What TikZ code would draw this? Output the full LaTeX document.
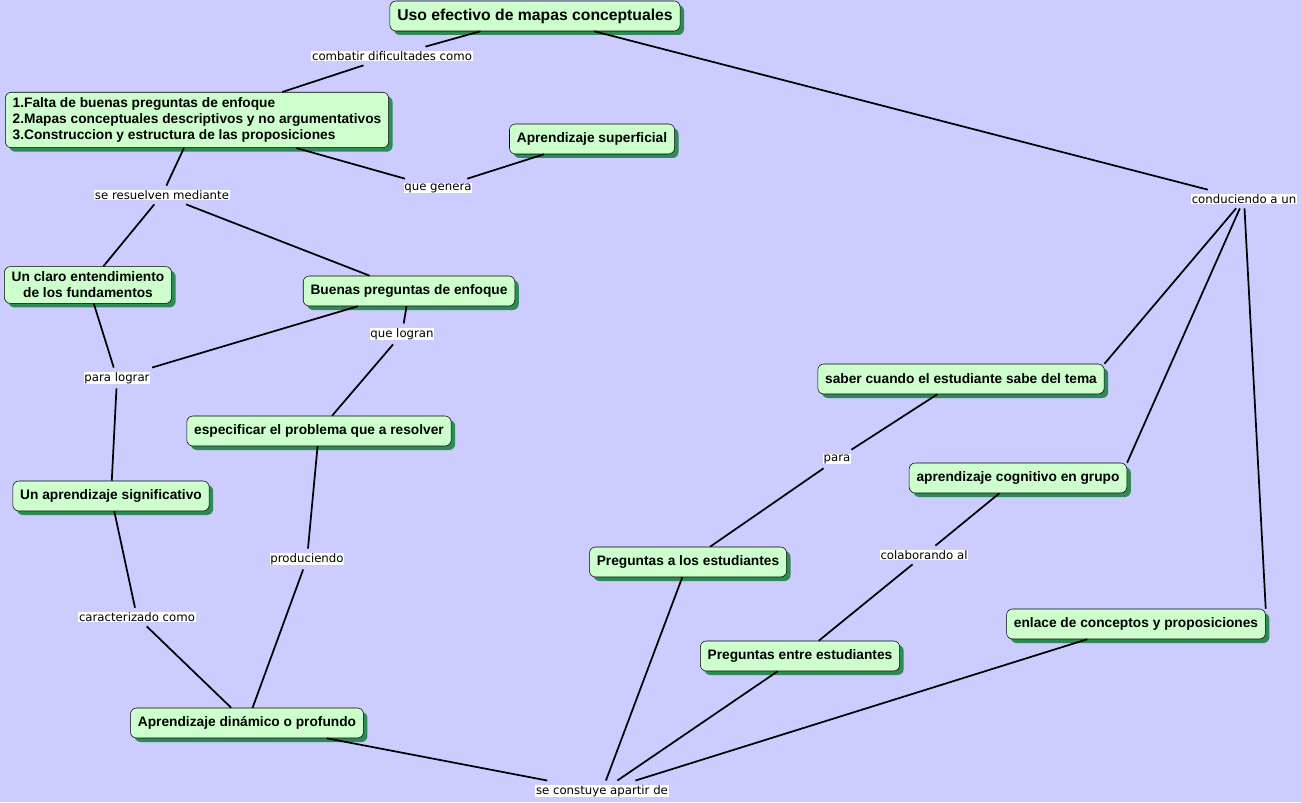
\documentclass[tikz,border=0pt]{standalone}
\usepackage{fontspec}
\setmainfont{Liberation Sans}
\newfontfamily\etiq{DejaVu Sans}
\usetikzlibrary{shadows}
\definecolor{fondo}{RGB}{204,204,255}
\definecolor{verdeclaro}{RGB}{204,255,204}
\definecolor{verdesombra}{RGB}{46,139,87}
\begin{document}
\begin{tikzpicture}[
            x=0.75pt, y=-0.75pt,
            concepto/.style={
                rectangle,
                rounded corners=4.5pt,
                draw=black,
                fill=verdeclaro,
                thin,
                minimum height=22.5pt,
                inner xsep=5.5pt,
                inner ysep=4pt,
                font=\fontsize{10.3}{12}\selectfont\bfseries,
                drop shadow={shadow xshift=3pt, shadow yshift=-3pt,
                    fill=verdesombra, opacity=1}
            },
            frase/.style={
                fill=white,
                inner sep=0.6pt,
                outer sep=3pt,
                font=\etiq\fontsize{8.8}{9}\selectfont
            },
            arista/.style={line width=1.3pt, black}
        ]

        % Fondo
        \fill[fondo] (0,0) rectangle (1301,802);
        \useasboundingbox (0,0) rectangle (1301,802);

        % Conceptos
        \node[concepto, font=\fontsize{11.8}{13}\selectfont\bfseries] (uso) at (535,16) {Uso efectivo de mapas conceptuales};
        \node[concepto, align=left] (falta) at (197,120) {1.Falta de buenas preguntas de enfoque\\2.Mapas conceptuales descriptivos y no argumentativos\\3.Construccion y estructura de las proposiciones};
        \node[concepto] (superficial) at (592,139) {Aprendizaje superficial};
        \node[concepto, align=center] (claro) at (88,285) {Un claro entendimiento\\de los fundamentos};
        \node[concepto] (buenas) at (409,291) {Buenas preguntas de enfoque};
        \node[concepto] (especificar) at (319,431) {especificar el problema que a resolver};
        \node[concepto] (significativo) at (111,496) {Un aprendizaje significativo};
        \node[concepto] (dinamico) at (247,723) {Aprendizaje dinámico o profundo};
        \node[concepto] (saber) at (961,379) {saber cuando el estudiante sabe del tema};
        \node[concepto] (cognitivo) at (1018,478) {aprendizaje cognitivo en grupo};
        \node[concepto] (alumnos) at (688,562) {Preguntas a los estudiantes};
        \node[concepto] (entre) at (800,656) {Preguntas entre estudiantes};
        \node[concepto] (enlace) at (1136,624) {enlace de conceptos y proposiciones};

        % Frases de enlace
        \node[frase] (combatir) at (392,56) {combatir dificultades como};
        \node[frase] (genera) at (438,188) {que genera};
        \node[frase] (resuelven) at (162,195) {se resuelven mediante};
        \node[frase] (logran) at (402,334) {que logran};
        \node[frase] (lograr) at (117,378) {para lograr};
        \node[frase] (produciendo) at (307,559) {produciendo};
        \node[frase] (caracterizado) at (137,617) {caracterizado como};
        \node[frase] (conduciendo) at (1244,199) {conduciendo a un};
        \node[frase] (para) at (837,459) {para};
        \node[frase] (colaborando) at (924,555) {colaborando al};
        \node[frase] (construye) at (602,791) {se constuye apartir de};

        % Aristas
        \draw[arista] (uso) -- (combatir);
        \draw[arista] (combatir) -- (falta);
        \draw[arista] (uso) -- (conduciendo);
        \draw[arista] (conduciendo) -- (saber.north east);
        \draw[arista] (conduciendo) -- (cognitivo.north east);
        \draw[arista] (conduciendo) -- (enlace.north east);
        \draw[arista] (falta) -- (genera);
        \draw[arista] (genera) -- (superficial);
        \draw[arista] (falta) -- (resuelven);
        \draw[arista] (resuelven) -- (claro);
        \draw[arista] (resuelven) -- (buenas);
        \draw[arista] (claro) -- (lograr);
        \draw[arista] (buenas) -- (lograr);
        \draw[arista] (lograr) -- (significativo);
        \draw[arista] (buenas) -- (logran);
        \draw[arista] (logran) -- (especificar);
        \draw[arista] (especificar) -- (produciendo);
        \draw[arista] (produciendo) -- (dinamico);
        \draw[arista] (significativo) -- (caracterizado);
        \draw[arista] (caracterizado) -- (dinamico);
        \draw[arista] (saber) -- (para);
        \draw[arista] (para) -- (alumnos);
        \draw[arista] (cognitivo) -- (colaborando);
        \draw[arista] (colaborando) -- (entre);
        \draw[arista] (dinamico) -- (construye);
        \draw[arista] (alumnos) -- (construye);
        \draw[arista] (entre) -- (construye);
        \draw[arista] (enlace) -- (construye);

        \end{tikzpicture}
\end{document}
